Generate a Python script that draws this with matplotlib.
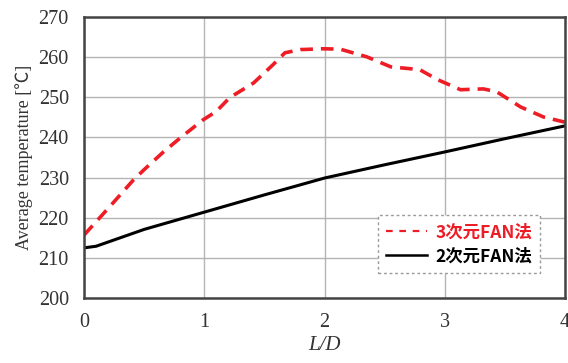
import matplotlib.pyplot as plt
from matplotlib.lines import Line2D

# values
ld_3d = [0.0, 0.1, 0.25, 0.41, 0.5, 0.66, 0.8, 0.99, 1.1, 1.21, 1.41, 1.57, 1.67, 1.8,
         1.99, 2.13, 2.35, 2.55, 2.79, 2.94, 3.13, 3.32, 3.43, 3.63, 3.82, 4.0]
temp_3d = [215.7, 219.0, 224.0, 229.4, 232.0, 236.4, 239.9, 244.4, 246.5, 249.9, 253.6, 258.1,
           261.1, 261.9, 262.1, 262.0, 260.1, 257.6, 256.9, 254.4, 251.9, 252.1, 251.4, 247.6,
           245.1, 243.8]

ld_2d = [0.0, 0.1, 0.5, 1.0, 1.5, 2.0, 2.5, 3.0, 3.5, 4.0]
temp_2d = [212.5, 212.9, 217.1, 221.4, 225.7, 229.9, 233.2, 236.4, 239.7, 242.9]

labels = ["3次元FAN法", "2次元FAN法"]
xticks = [0, 1, 2, 3, 4]
yticks = [200, 210, 220, 230, 240, 250, 260, 270]

serif = ["Liberation Serif", "Noto Sans CJK JP"]
cjk = ["Noto Sans CJK JP", "DejaVu Sans"]
red = "#ee1c25"

fig = plt.figure(figsize=(5.68, 3.63), dpi=100)
ax = fig.add_axes([0.148, 0.179, 0.847, 0.774])

ax.plot(ld_3d, temp_3d, color=red, lw=2.6, dashes=(3.5, 2.2))
ax.plot(ld_2d, temp_2d, color="black", lw=2.2)

ax.set_xlim(0, 4)
ax.set_ylim(200, 270)
ax.set_xticks(xticks)
ax.set_yticks(yticks)
ax.grid(True, color="#b4b4b4", lw=1.0)
ax.set_axisbelow(True)
ax.tick_params(length=0, pad=11, labelsize=14.5, labelcolor="#333333")
for lab in ax.get_xticklabels() + ax.get_yticklabels():
    lab.set_family(serif)
for sp in ax.spines.values():
    sp.set_color("#444444")
    sp.set_linewidth(1.8)

ax.set_ylabel("Average temperature [℃]", family=serif, fontsize=13, color="#333333", labelpad=4)
ax.set_xlabel("L/D", family=serif, style="italic", fontsize=15, color="#333333", labelpad=3)

handles = [Line2D([], [], color=red, lw=1.6, dashes=(3, 3)),
           Line2D([], [], color="black", lw=1.8)]
leg = ax.legend(handles, labels, loc="lower left", bbox_to_anchor=(0.611, 0.089),
                borderaxespad=0, fancybox=False, framealpha=1, edgecolor="#999999",
                handlelength=2.4, handletextpad=0.45, borderpad=0.45, labelspacing=0.35,
                prop={"family": cjk, "weight": "bold", "size": 12.5})
leg.get_frame().set_linestyle((0, (2, 2)))
leg.get_frame().set_linewidth(1.0)
leg.get_texts()[0].set_color(red)

fig.savefig("out.png", dpi=100)
